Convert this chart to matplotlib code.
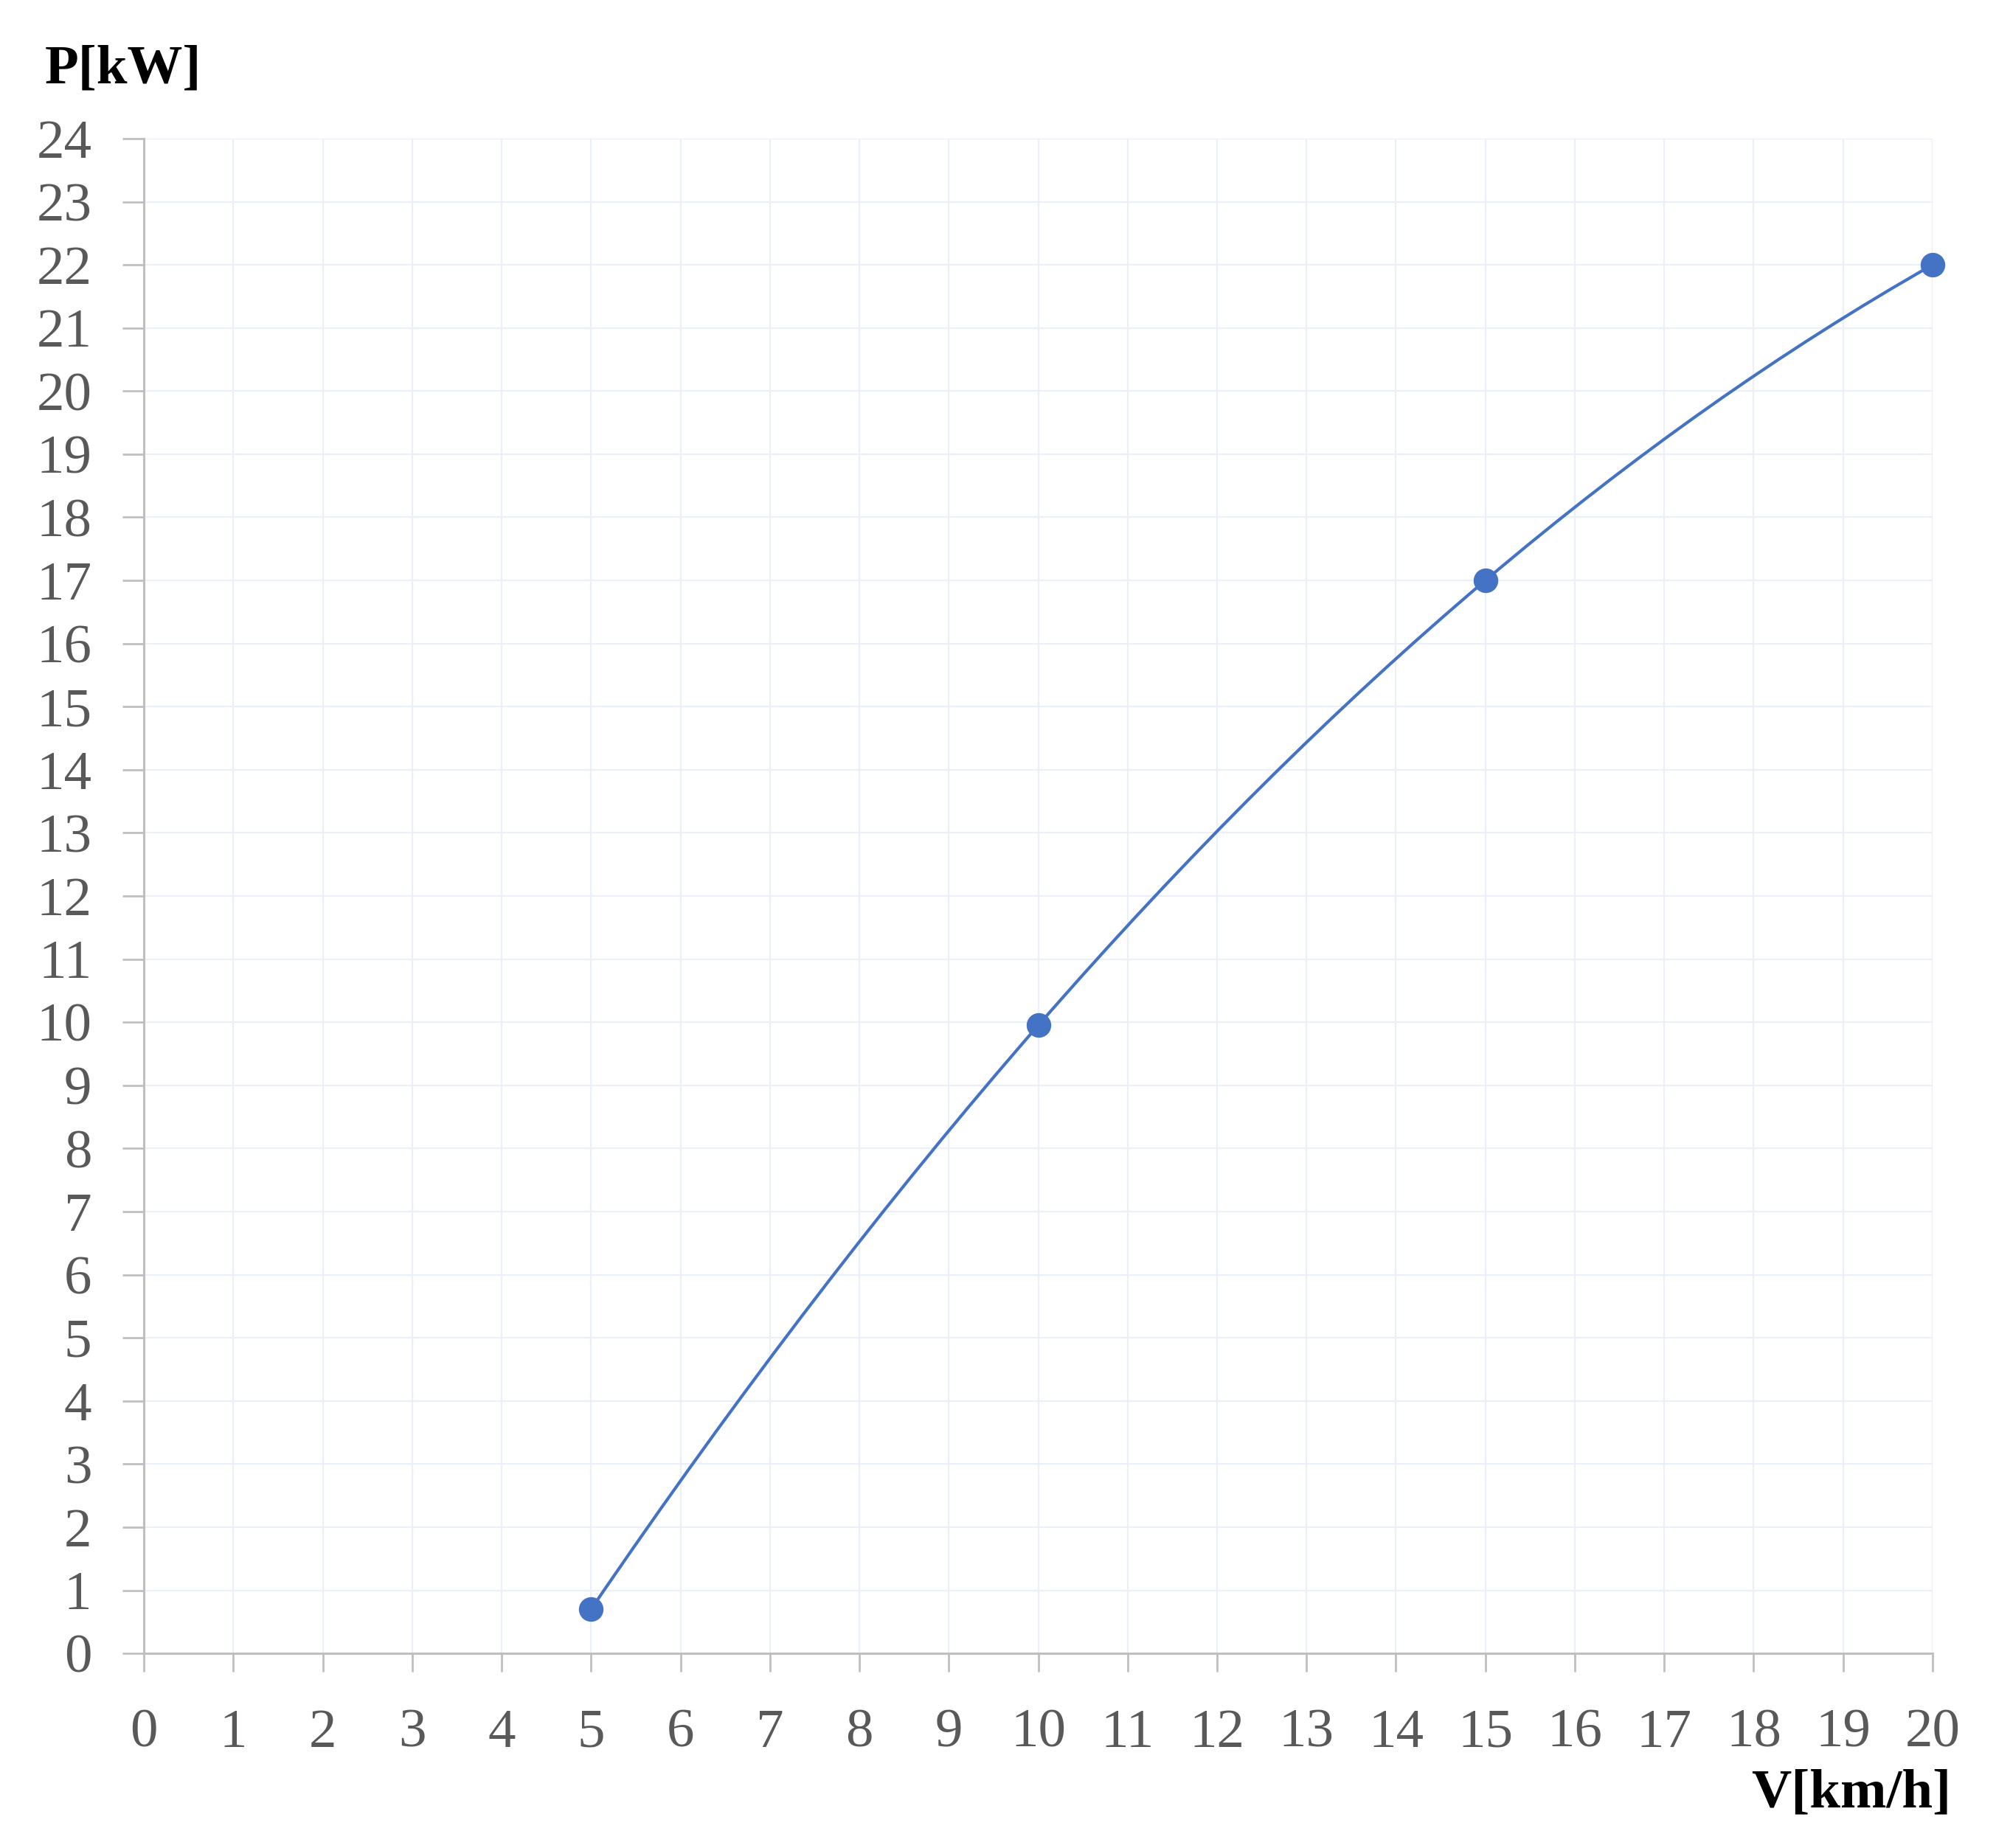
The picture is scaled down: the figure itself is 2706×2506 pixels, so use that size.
import matplotlib
matplotlib.use("Agg")
import matplotlib.pyplot as plt
import numpy as np
from matplotlib.path import Path
from matplotlib.patches import PathPatch

# Data
speed_kmh = [5, 10, 15, 20]
power_kw = [0.7, 9.95, 17.0, 22.0]
x_ticks = list(range(0, 21))
y_ticks = list(range(0, 25))
x_label = "V[km/h]"
y_label = "P[kW]"

DPI = 100
fig = plt.figure(figsize=(27.06, 25.06), dpi=DPI)
ax = fig.add_axes([0.0721, 0.1053, 0.9682 - 0.0721, 0.925 - 0.1053])

ax.set_xlim(0, 20)
ax.set_ylim(0, 24)
ax.set_xticks(x_ticks)
ax.set_yticks(y_ticks)

font = "Liberation Serif"
tick_col = "#595959"
spine_col = "#BFBFBF"
ax.set_xticklabels([str(t) for t in x_ticks], fontfamily=font, fontsize=54, color=tick_col)
ax.set_yticklabels([str(t) for t in y_ticks], fontfamily=font, fontsize=54, color=tick_col)
ax.tick_params(axis="x", length=18, width=2, color=spine_col, pad=36)
ax.tick_params(axis="y", length=21, width=2, color=spine_col, pad=30)

for s in ["top", "right"]:
    ax.spines[s].set_visible(False)
for s in ["left", "bottom"]:
    ax.spines[s].set_color(spine_col)
    ax.spines[s].set_linewidth(2.2)

ax.grid(True, color="#EBF0F8", linewidth=1.6)
ax.set_axisbelow(True)

# Smooth curve through the points: Bezier segments whose end tangents come
# from the cubic that passes through all data points.
xs = np.asarray(speed_kmh, dtype=float)
ys = np.asarray(power_kw, dtype=float)
coef = np.polyfit(xs, ys, len(xs) - 1)
dcoef = np.polyder(coef)
slopes = np.polyval(dcoef, xs)
verts = [(xs[0], ys[0])]
codes = [Path.MOVETO]
for i in range(len(xs) - 1):
    h = xs[i + 1] - xs[i]
    c1 = (xs[i] + h / 3.0, ys[i] + slopes[i] * h / 3.0)
    c2 = (xs[i + 1] - h / 3.0, ys[i + 1] - slopes[i + 1] * h / 3.0)
    verts += [c1, c2, (xs[i + 1], ys[i + 1])]
    codes += [Path.CURVE4] * 3
patch = PathPatch(Path(verts, codes), facecolor="none", edgecolor="#4472C4",
                  linewidth=3.0, transform=ax.transData, zorder=3, clip_on=False)
ax.add_patch(patch)

ax.plot(speed_kmh, power_kw, linestyle="none", marker="o", markersize=23,
        color="#4472C4", zorder=4, clip_on=False)

fig.text(0.0225, 1 - 113 / 2506, y_label, fontfamily=font, fontweight="bold",
         fontsize=54, color="black", ha="left", va="baseline")
fig.text(0.9775, 1 - 2450 / 2506, x_label, fontfamily=font, fontweight="bold",
         fontsize=54, color="black", ha="right", va="baseline")

fig.savefig("out.png", dpi=DPI, facecolor="white")
